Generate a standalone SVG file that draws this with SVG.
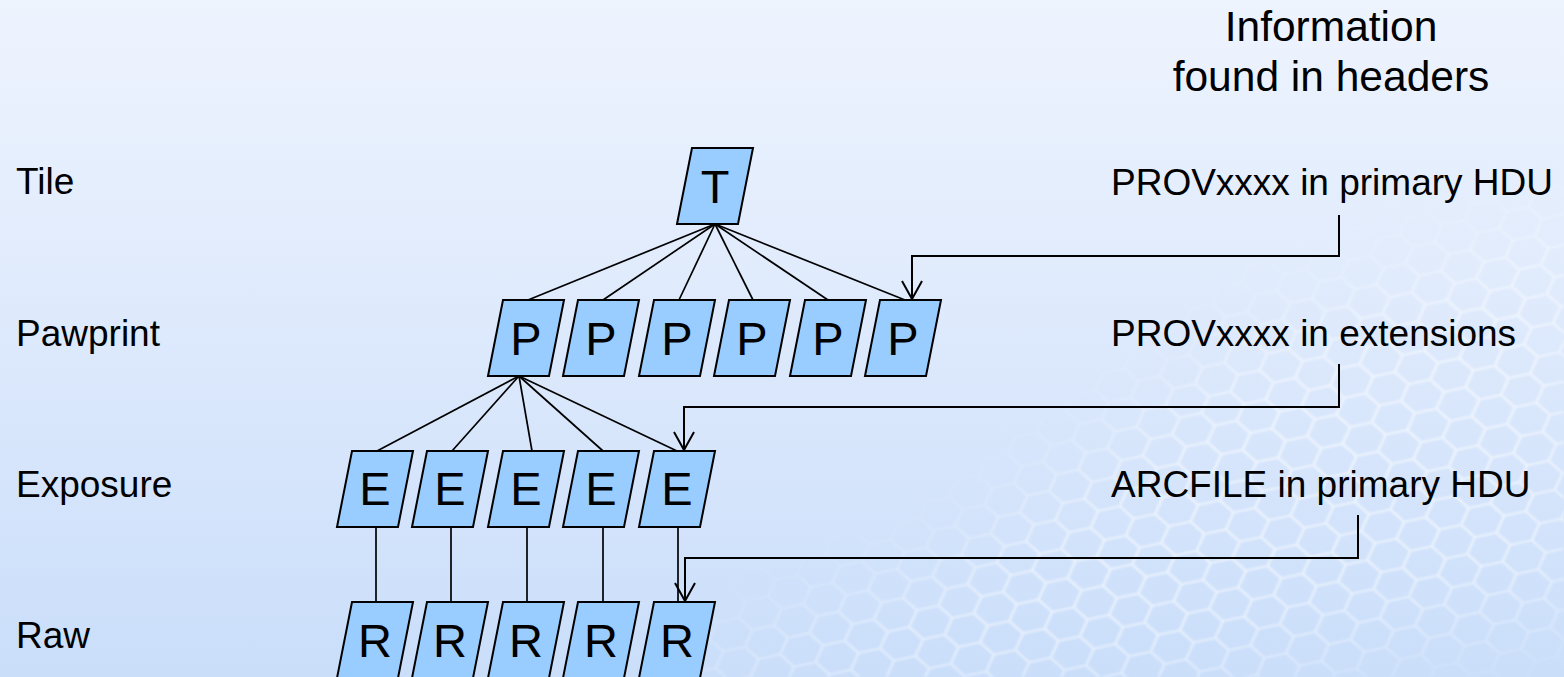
<svg xmlns="http://www.w3.org/2000/svg" width="1564" height="677" viewBox="0 0 1564 677">
  <defs>
    <linearGradient id="bg" x1="0" y1="0" x2="0" y2="1">
      <stop offset="0" stop-color="#eef4fe"/>
      <stop offset="0.5" stop-color="#dde9fc"/>
      <stop offset="1" stop-color="#cadefa"/>
    </linearGradient>
    <!-- honeycomb texture, flattened -->
    <pattern id="hex" width="66" height="38.1" patternUnits="userSpaceOnUse" patternTransform="rotate(-12) scale(1,0.78)">
      <path d="M0,19.05 L11,0 L33,0 L44,19.05 L33,38.1 L11,38.1 Z M44,19.05 L66,19.05" fill="none" stroke="#ffffff" stroke-width="2.6"/>
    </pattern>
    <filter id="soft" x="-20%" y="-20%" width="140%" height="140%">
      <feGaussianBlur stdDeviation="45"/>
    </filter>
    <filter id="haze">
      <feGaussianBlur stdDeviation="0.9"/>
    </filter>
    <mask id="band">
      <path d="M620,700 L950,560 L1250,330 L1600,200 L1600,610 L1380,640 L1150,700 Z" fill="#ffffff" filter="url(#soft)"/>
    </mask>
    <marker id="open" viewBox="-20 -12 22 24" refX="0" refY="0" markerWidth="22" markerHeight="24" markerUnits="userSpaceOnUse" orient="auto">
      <path d="M-18,-10 L0,0 L-18,10" fill="none" stroke="#000" stroke-width="2"/>
    </marker>
    <style>
      .lbl { font-family: "Liberation Sans", Arial, sans-serif; font-size: 37px; fill: #000; }
      .ttl { font-family: "Liberation Sans", Arial, sans-serif; font-size: 42.5px; fill: #000; text-anchor: middle; }
      .box { fill: #99ccff; stroke: #000; stroke-width: 2; stroke-linejoin: miter; }
      .ch { font-family: "Liberation Sans", Arial, sans-serif; font-size: 47px; fill: #000; text-anchor: middle; }
      .ln { stroke: #000; stroke-width: 1.7; fill: none; }
      .arr { stroke: #000; stroke-width: 2; fill: none; marker-end: url(#open); }
    </style>
  </defs>

  <!-- background -->
  <rect width="1564" height="677" fill="url(#bg)"/>
  <rect width="1564" height="677" fill="url(#hex)" mask="url(#band)" opacity="0.6" filter="url(#haze)"/>

  <!-- title -->
  <g id="title">
    <text class="ttl" x="1331" y="41">Information</text>
    <text class="ttl" x="1331" y="91">found in headers</text>
  </g>

  <!-- level labels -->
  <g id="levels">
    <text class="lbl" x="16" y="194">Tile</text>
    <text class="lbl" x="16" y="346">Pawprint</text>
    <text class="lbl" x="16" y="497">Exposure</text>
    <text class="lbl" x="16" y="648">Raw</text>
  </g>

  <!-- header notes -->
  <g id="notes">
    <text class="lbl" x="1111" y="195">PROVxxxx in primary HDU</text>
    <text class="lbl" x="1111" y="346">PROVxxxx in extensions</text>
    <text class="lbl" x="1111" y="497">ARCFILE in primary HDU</text>
  </g>

  <!-- connectors -->
  <g id="connectors">
    <!-- tile to pawprints -->
    <line class="ln" x1="715" y1="224" x2="528" y2="300"/>
    <line class="ln" x1="715" y1="224" x2="603" y2="300"/>
    <line class="ln" x1="715" y1="224" x2="679" y2="300"/>
    <line class="ln" x1="715" y1="224" x2="753" y2="300"/>
    <line class="ln" x1="715" y1="224" x2="828" y2="300"/>
    <line class="ln" x1="715" y1="224" x2="905" y2="300"/>
    <!-- pawprint to exposures -->
    <line class="ln" x1="519" y1="376" x2="377" y2="451"/>
    <line class="ln" x1="519" y1="376" x2="452" y2="451"/>
    <line class="ln" x1="519" y1="376" x2="532" y2="451"/>
    <line class="ln" x1="519" y1="376" x2="603" y2="451"/>
    <line class="ln" x1="519" y1="376" x2="677" y2="451"/>
    <!-- exposures to raw frames -->
    <line class="ln" x1="376" y1="527" x2="376" y2="602"/>
    <line class="ln" x1="451" y1="527" x2="451" y2="602"/>
    <line class="ln" x1="527" y1="527" x2="527" y2="602"/>
    <line class="ln" x1="603" y1="527" x2="603" y2="602"/>
    <line class="ln" x1="678" y1="527" x2="678" y2="602"/>
    <!-- header pointers -->
    <polyline class="arr" points="1339,215 1339,256 912,256 912,299"/>
    <polyline class="arr" points="1339,364 1339,407 684,407 684,450"/>
    <polyline class="arr" points="1358,515 1358,558 685,558 685,601"/>
  </g>

  <!-- tile -->
  <g id="tile">
    <polygon class="box" points="692,148 753,148 738,224 677,224"/>
    <text class="ch" x="715" y="203">T</text>
  </g>

  <!-- pawprints -->
  <g id="pawprint-1">
    <polygon class="box" points="503,300 564,300 549,376 488,376"/>
    <text class="ch" x="526" y="355">P</text>
  </g>
  <g id="pawprint-2">
    <polygon class="box" points="578,300 639,300 624,376 563,376"/>
    <text class="ch" x="601" y="355">P</text>
  </g>
  <g id="pawprint-3">
    <polygon class="box" points="654,300 715,300 700,376 639,376"/>
    <text class="ch" x="677" y="355">P</text>
  </g>
  <g id="pawprint-4">
    <polygon class="box" points="729,300 790,300 775,376 714,376"/>
    <text class="ch" x="752" y="355">P</text>
  </g>
  <g id="pawprint-5">
    <polygon class="box" points="805,300 866,300 851,376 790,376"/>
    <text class="ch" x="828" y="355">P</text>
  </g>
  <g id="pawprint-6">
    <polygon class="box" points="880,300 941,300 926,376 865,376"/>
    <text class="ch" x="903" y="355">P</text>
  </g>

  <!-- exposures -->
  <g id="exposure-1">
    <polygon class="box" points="352,451 413,451 398,527 337,527"/>
    <text class="ch" x="375" y="505">E</text>
  </g>
  <g id="exposure-2">
    <polygon class="box" points="427,451 488,451 473,527 412,527"/>
    <text class="ch" x="450" y="505">E</text>
  </g>
  <g id="exposure-3">
    <polygon class="box" points="503,451 564,451 549,527 488,527"/>
    <text class="ch" x="526" y="505">E</text>
  </g>
  <g id="exposure-4">
    <polygon class="box" points="578,451 639,451 624,527 563,527"/>
    <text class="ch" x="601" y="505">E</text>
  </g>
  <g id="exposure-5">
    <polygon class="box" points="654,451 715,451 700,527 639,527"/>
    <text class="ch" x="677" y="505">E</text>
  </g>

  <!-- raw frames -->
  <g id="raw-1">
    <polygon class="box" points="352,602 413,602 398,678 337,678"/>
    <text class="ch" x="375" y="657">R</text>
  </g>
  <g id="raw-2">
    <polygon class="box" points="427,602 488,602 473,678 412,678"/>
    <text class="ch" x="450" y="657">R</text>
  </g>
  <g id="raw-3">
    <polygon class="box" points="503,602 564,602 549,678 488,678"/>
    <text class="ch" x="526" y="657">R</text>
  </g>
  <g id="raw-4">
    <polygon class="box" points="578,602 639,602 624,678 563,678"/>
    <text class="ch" x="601" y="657">R</text>
  </g>
  <g id="raw-5">
    <polygon class="box" points="654,602 715,602 700,678 639,678"/>
    <text class="ch" x="677" y="657">R</text>
  </g>
</svg>
